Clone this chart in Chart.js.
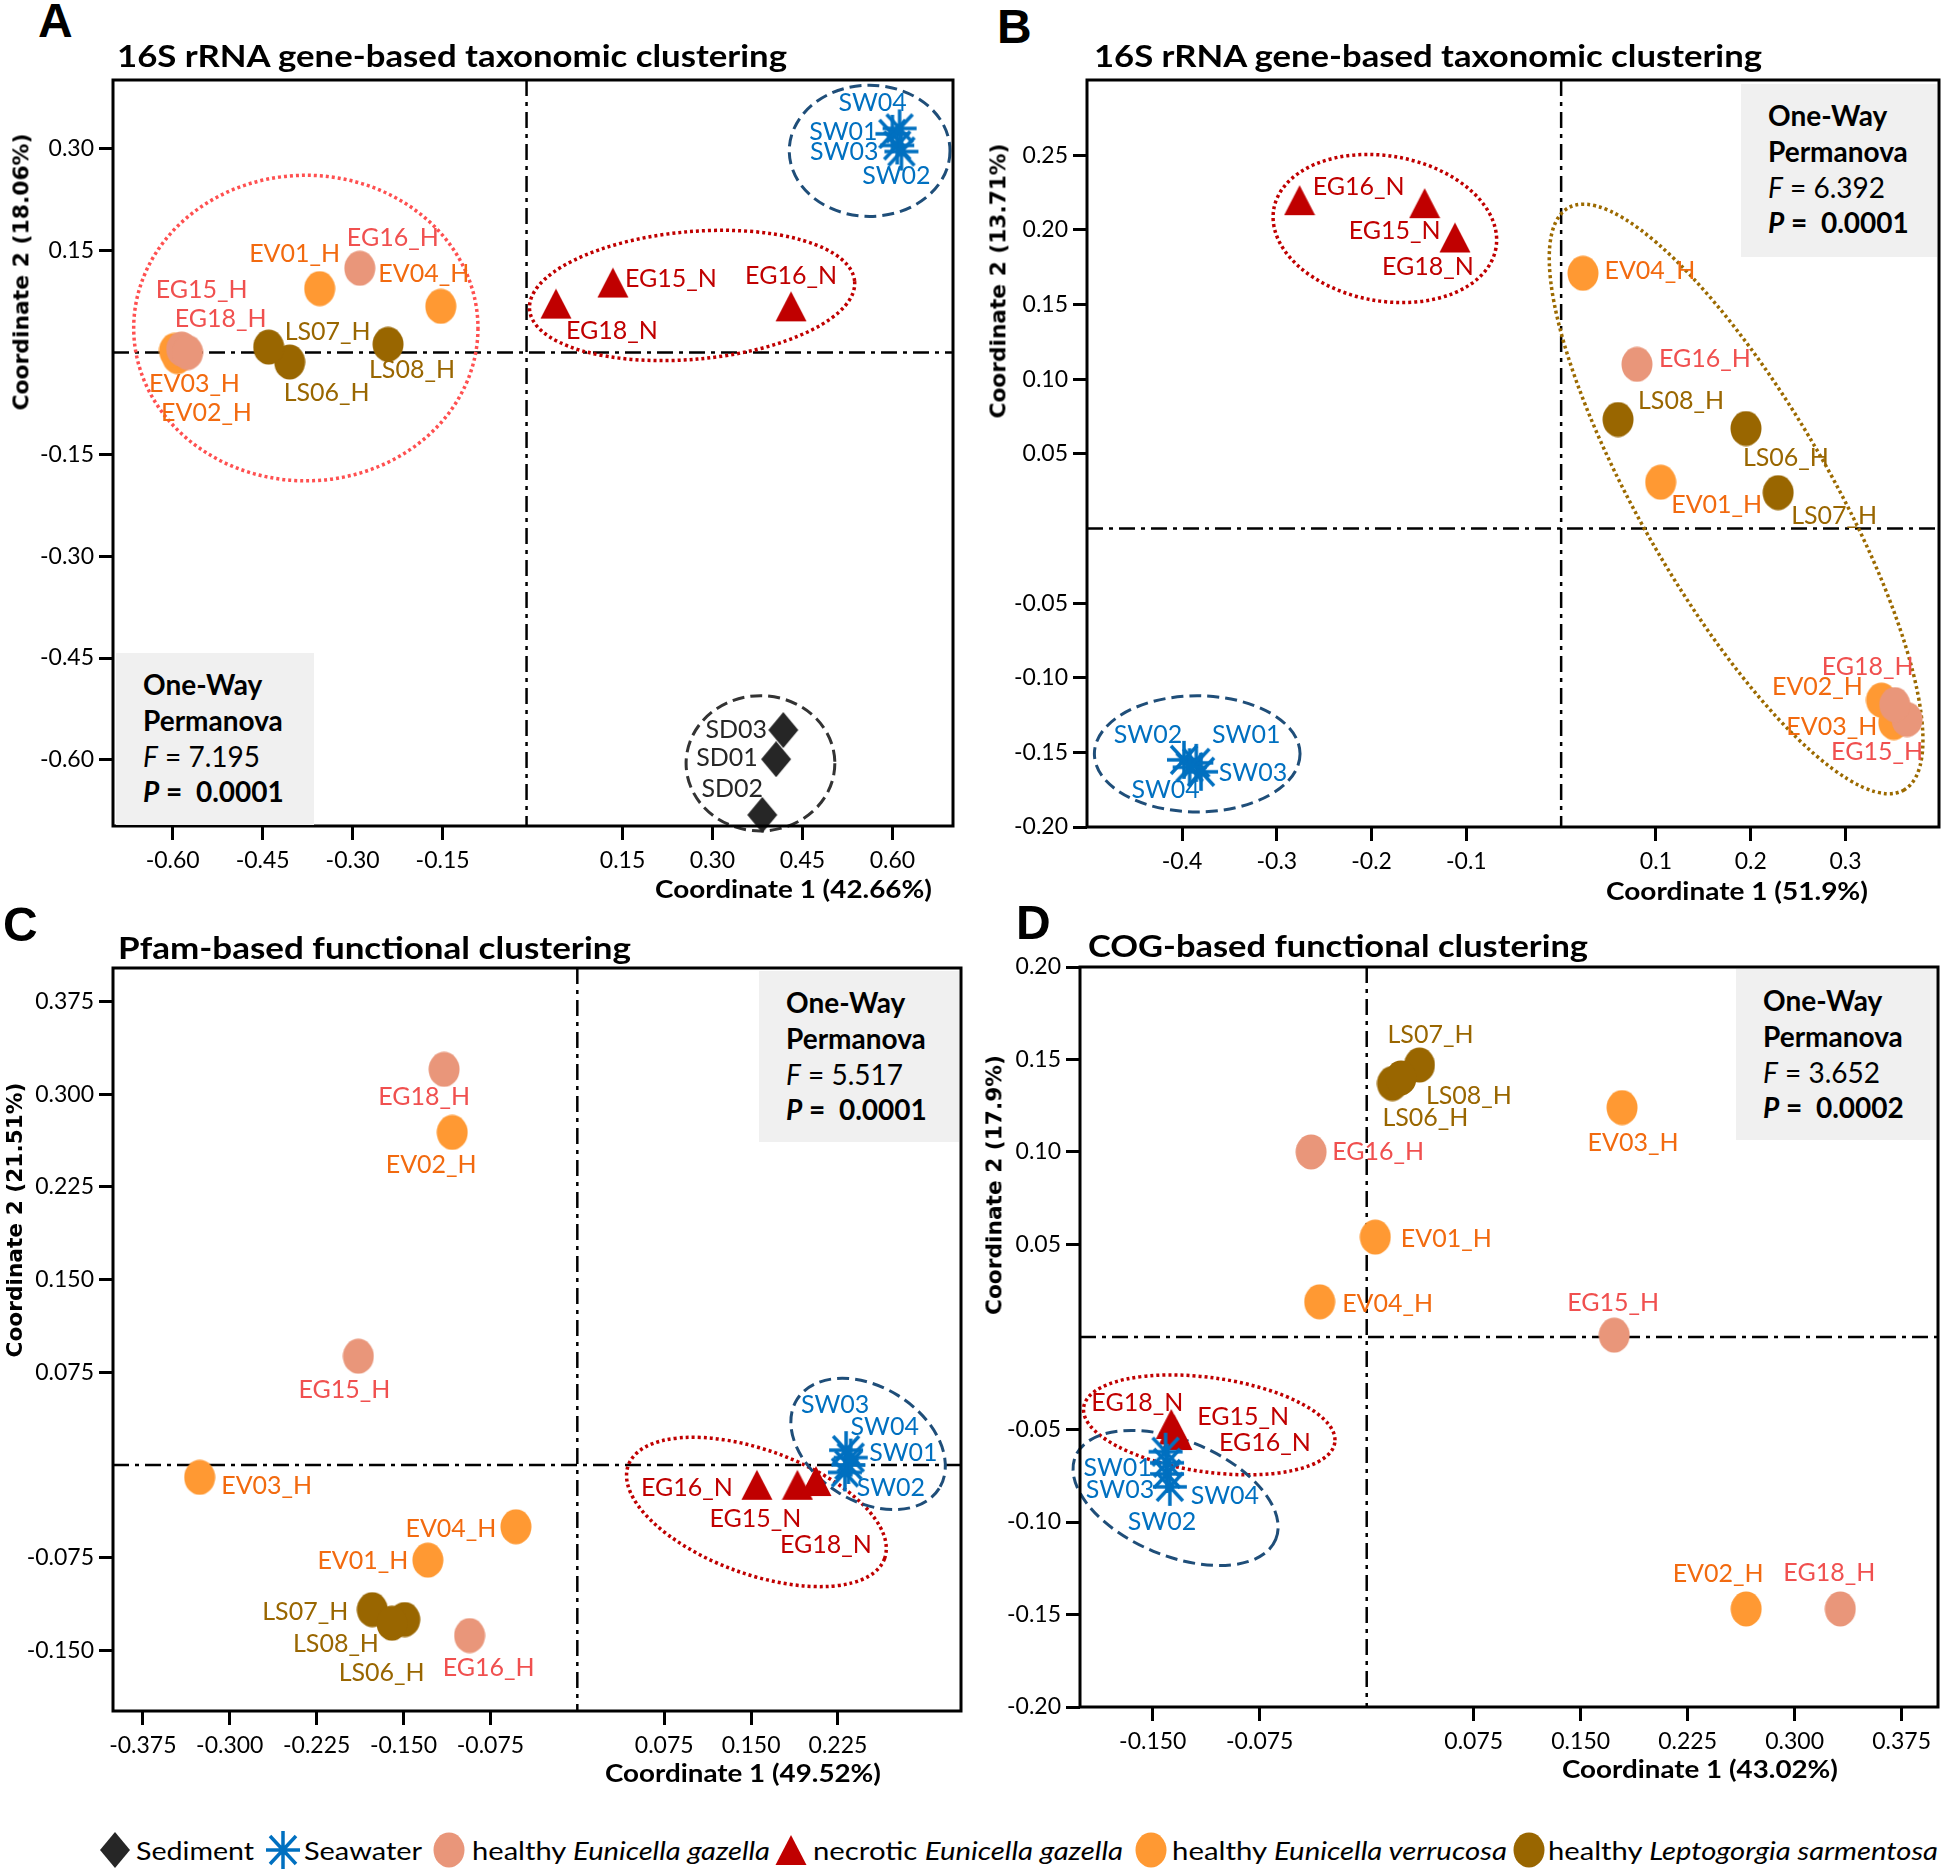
<!DOCTYPE html>
<html>
<head>
<meta charset="utf-8">
<script src="https://cdn.jsdelivr.net/npm/chart.js@4.4.1/dist/chart.umd.min.js"></script>
<style>
  html, body { margin: 0; padding: 0; background: #fff; overflow: hidden; }
  #page { position: relative; width: 1946px; height: 1872px; font-family: Lato, 'Noto Sans', sans-serif; color: #000; }
  #page canvas { position: absolute; }
  .t { position: absolute; white-space: nowrap; }
  .box { position: absolute; background: #f0f0f0; }
</style>
</head>
<body>
<div id="page"></div>
<script>
// PCoA ordinations of coral, seawater and sediment samples (four panels).

/* global Chart */

// ---- data ----------------------------------------------------------------
const groupNames = ['Sediment', 'Seawater', 'healthy Eunicella gazella', 'necrotic Eunicella gazella',
  'healthy Eunicella verrucosa', 'healthy Leptogorgia sarmentosa'];
const sedimentSamples = ['SD01', 'SD02', 'SD03'];
const samples = ['SW01', 'SW02', 'SW03', 'SW04', 'EG15_H', 'EG16_H', 'EG18_H', 'EG15_N', 'EG16_N', 'EG18_N',
  'EV01_H', 'EV02_H', 'EV03_H', 'EV04_H', 'LS06_H', 'LS07_H', 'LS08_H'];

// A: 16S rRNA taxonomic (sediment first, then the shared sample list)
const taxNamesA = sedimentSamples.concat(samples);
const taxAX = [0.406, 0.383, 0.418, 0.600, 0.615, 0.608, 0.612, -0.585, -0.288, -0.575, 0.134, 0.431, 0.039,
  -0.355, -0.592, -0.597, -0.153, -0.405, -0.440, -0.241];
const taxAY = [-0.599, -0.681, -0.556, 0.322, 0.296, 0.305, 0.330, 0.005, 0.124, 0.000, 0.103, 0.068, 0.072,
  0.094, -0.006, 0.003, 0.068, -0.014, 0.008, 0.012];
const taxAXTicks = [-0.60, -0.45, -0.30, -0.15, 0.15, 0.30, 0.45, 0.60];
const taxAYTicks = [-0.60, -0.45, -0.30, -0.15, 0.15, 0.30];

// B: 16S rRNA taxonomic, corals + seawater
const taxBX = [-0.385, -0.398, -0.380, -0.392, 0.365, 0.080, 0.352, -0.144, -0.276, -0.112,
  0.105, 0.338, 0.351, 0.023, 0.195, 0.229, 0.060];
const taxBY = [-0.157, -0.155, -0.163, -0.160, -0.128, 0.110, -0.118, 0.218, 0.220, 0.195,
  0.031, -0.115, -0.130, 0.171, 0.067, 0.024, 0.073];
const taxBXTicks = [-0.4, -0.3, -0.2, -0.1, 0.1, 0.2, 0.3];
const taxBYTicks = [-0.20, -0.15, -0.10, -0.05, 0.05, 0.10, 0.15, 0.20, 0.25];

// C: Pfam functional
const pfamX = [0.234, 0.231, 0.232, 0.236, -0.189, -0.093, -0.115, 0.190, 0.155, 0.206,
  -0.129, -0.108, -0.326, -0.053, -0.149, -0.177, -0.160];
const pfamY = [0.000, -0.006, 0.012, 0.006, 0.088, -0.138, 0.320, -0.016, -0.016, -0.013,
  -0.077, 0.269, -0.010, -0.050, -0.125, -0.117, -0.128];
const pfamXTicks = [-0.375, -0.300, -0.225, -0.150, -0.075, 0.075, 0.150, 0.225];
const pfamYTicks = [-0.150, -0.075, 0.075, 0.150, 0.225, 0.300, 0.375];

// D: COG functional
const cogX = [-0.141, -0.140, -0.140, -0.138, 0.1735, -0.039, 0.332, -0.135, -0.133, -0.137,
  0.006, 0.266, 0.179, -0.033, 0.018, 0.037, 0.024];
const cogY = [-0.062, -0.074, -0.068, -0.081, 0.001, 0.100, -0.147, -0.050, -0.053, -0.047,
  0.054, -0.147, 0.124, 0.019, 0.137, 0.147, 0.140];
const cogXTicks = [-0.150, -0.075, 0.075, 0.150, 0.225, 0.300, 0.375];
const cogYTicks = [-0.20, -0.15, -0.10, -0.05, 0.05, 0.10, 0.15, 0.20];

// One-way PERMANOVA results per panel
const permF = ['7.195', '6.392', '5.517', '3.652'];
const permP = ['0.0001', '0.0001', '0.0001', '0.0002'];

// ---- styling / layout ----------------------------------------------------
const fillColors = ['#262626', '#0070c0', '#e9967a', '#c00000', '#ff9933', '#996600'];
const labelColors = ['#262626', '#0070c0', '#f0504f', '#c00000', '#f26a0f', '#996600'];

// label offsets (px) from each point
const labelsA = { SD01: [-49, -1], SD02: [-30, -26], SD03: [-47, 0], SW01: [-49, -2], SW02: [-5, 24], SW03: [-53, 7],
  SW04: [-27, -25], EG15_H: [20, -59], EG16_H: [33, -30], EG18_H: [33, -34], EG15_N: [58, -4], EG16_N: [0, -30],
  EG18_N: [56, 27], EV01_H: [-25, -35], EV02_H: [29, 56], EV03_H: [20, 33], EV04_H: [-17, -32], LS06_H: [37, 31],
  LS07_H: [59, -15], LS08_H: [24, 26] };
const labelsB = { SW01: [50, -28], SW02: [-36, -25], SW03: [52, 1], SW04: [-24, 23], EG15_H: [-30, 32], EG16_H: [68, -5],
  EG18_H: [-27, -38], EG15_N: [-30, 28], EG16_N: [59, -13], EG18_N: [-27, 29], EV01_H: [56, 23], EV02_H: [-64, -13],
  EV03_H: [-62, 4], EV04_H: [67, -2], LS06_H: [40, 29], LS07_H: [56, 23], LS08_H: [63, -19] };
const labelsC = { SW01: [55, -12], SW02: [46, 16], SW03: [-11, -45], SW04: [34, -31], EG15_H: [-14, 34], EG16_H: [19, 32],
  EG18_H: [-20, 28], EG15_N: [-42, 34], EG16_N: [-70, 3], EG18_N: [10, 64], EV01_H: [-65, 1], EV02_H: [-21, 33],
  EV03_H: [67, 9], EV04_H: [-65, 2], LS06_H: [-23, 53], LS07_H: [-67, 2], LS08_H: [-56, 21] };
const labelsD = { SW01: [-48, 16], SW02: [-5, 48], SW03: [-47, 27], SW04: [55, 9], EG15_H: [-1, -32], EG16_H: [67, 0],
  EG18_H: [-11, -36], EG15_N: [69, -13], EG16_N: [88, 8], EG18_N: [-34, -21], EV01_H: [71, 2], EV02_H: [-28, -35],
  EV03_H: [11, 35], EV04_H: [68, 2], LS06_H: [33, 34], LS07_H: [11, -30], LS08_H: [68, 18] };

// cluster outlines: centre in data units, semi-axes in x / y units, rotation in degrees
const DOT = [3, 3];
const DASH = [12, 6];
const ellA = [
  { cx: -0.378, cy: 0.036, a: 0.287, b: 0.225, rot: 0, color: '#ff5050', dash: DOT },
  { cx: 0.266, cy: 0.084, a: 0.272, b: 0.094, rot: -5, color: '#c00000', dash: DOT },
  { cx: 0.562, cy: 0.297, a: 0.134, b: 0.0966, rot: 0, color: '#1f4e79', dash: DASH },
  { cx: 0.380, cy: -0.605, a: 0.124, b: 0.0996, rot: 0, color: '#333333', dash: DASH },
];
const ellB = [
  { cx: -0.186, cy: 0.201, a: 0.119, b: 0.0486, rot: 10, color: '#c00000', dash: DOT },
  { cx: 0.1846, cy: 0.0198, a: 0.3545, b: 0.0633, rot: 60, color: '#9c6a00', dash: DOT },
  { cx: -0.384, cy: -0.151, a: 0.1085, b: 0.0389, rot: 0, color: '#1f4e79', dash: DASH },
];
const ellC = [
  { cx: 0.1546, cy: -0.038, a: 0.1177, b: 0.0502, rot: 20, color: '#c00000', dash: DOT },
  { cx: 0.251, cy: 0.017, a: 0.0724, b: 0.0461, rot: 32, color: '#1f4e79', dash: DASH },
];
const ellD = [
  { cx: -0.1104, cy: -0.0475, a: 0.0889, b: 0.0255, rot: 8, color: '#c00000', dash: DOT },
  { cx: -0.134, cy: -0.087, a: 0.076, b: 0.0312, rot: 22.5, color: '#1f4e79', dash: DASH },
];

const panels = [
  { names: taxNamesA, x: taxAX, y: taxAY, xt: taxAXTicks, yt: taxAYTicks, xd: 2, yd: 2,
    frame: [113, 80, 953, 826], xr: [-0.6995, 0.701], yr: [-0.6973, 0.4013], refX: -0.010, ell: ellA, lab: labelsA },
  { names: samples, x: taxBX, y: taxBY, xt: taxBXTicks, yt: taxBYTicks, xd: 1, yd: 2,
    frame: [1087, 80, 1939, 827], xr: [-0.5003, 0.3987], yr: [-0.20, 0.3005], refX: 0, ell: ellB, lab: labelsB },
  { names: samples, x: pfamX, y: pfamY, xt: pfamXTicks, yt: pfamYTicks, xd: 3, yd: 3,
    frame: [113, 968, 961, 1711], xr: [-0.4008, 0.3312], yr: [-0.199, 0.402], refX: 0, ell: ellC, lab: labelsC },
  { names: samples, x: cogX, y: cogY, xt: cogXTicks, yt: cogYTicks, xd: 3, yd: 2,
    frame: [1080, 967, 1938, 1707], xr: [-0.201, 0.4005], yr: [-0.20, 0.20], refX: 0, ell: ellD, lab: labelsD },
];

// canvas margins around each plot frame (px)
const PAD = { left: 4, top: 16, right: 4, bottom: 8 };
const Y_AXIS_W = 100;
const X_AXIS_H = 56;

const page = document.getElementById('page');

function groupOf(n) {
  if (n.startsWith('SD')) return 0;
  if (n.startsWith('SW')) return 1;
  if (n.startsWith('EG')) return n.endsWith('_N') ? 3 : 2;
  if (n.startsWith('EV')) return 4;
  return 5;
}

// small canvases used as point styles
function makeMarker(gi) {
  const c = document.createElement('canvas');
  const g = c.getContext('2d');
  const col = fillColors[gi];
  if (gi === 0) {
    c.width = 32; c.height = 36;
    g.fillStyle = col;
    g.beginPath(); g.moveTo(16, 0); g.lineTo(31, 18); g.lineTo(16, 36); g.lineTo(1, 18); g.closePath(); g.fill();
  } else if (gi === 1) {
    c.width = 36; c.height = 40;
    g.strokeStyle = col; g.lineWidth = 3.5;
    g.beginPath();
    g.moveTo(18, 1); g.lineTo(18, 39);
    g.moveTo(1, 20); g.lineTo(35, 20);
    g.moveTo(5, 6); g.lineTo(31, 34);
    g.moveTo(31, 6); g.lineTo(5, 34);
    g.stroke();
  } else if (gi === 3) {
    c.width = 32; c.height = 32;
    g.fillStyle = col;
    g.beginPath(); g.moveTo(16, 1); g.lineTo(31.5, 31); g.lineTo(0.5, 31); g.closePath(); g.fill();
  } else {
    c.width = 32; c.height = 36;
    g.fillStyle = col;
    g.beginPath(); g.ellipse(16, 18, 15.5, 17.5, 0, 0, Math.PI * 2); g.fill();
  }
  return c;
}

function addText(html, x, y, o) {
  const el = document.createElement('div');
  el.className = 't';
  el.innerHTML = html;
  el.style.font = o.font;
  el.style.lineHeight = '1.2';
  el.style.left = x + 'px';
  el.style.top = y + 'px';
  el.style.color = o.color || '#000';
  page.appendChild(el);
  const s = o.width ? o.width / el.getBoundingClientRect().width : 1;
  if (o.rotate) {
    el.style.transform = `translate(-50%,-50%) rotate(-90deg) scaleX(${s})`;
  } else {
    el.style.transformOrigin = '0 50%';
    el.style.transform = `translateY(-50%) scaleX(${s})`;
  }
  return el;
}

const decorPlugin = {
  id: 'decor',
  beforeDatasetsDraw(chart) {
    const p = chart.options.plugins.decor.panel;
    const { ctx, chartArea: ca } = chart;
    const xs = chart.scales.x, ys = chart.scales.y;
    ctx.save();
    // dash-dot reference lines
    ctx.strokeStyle = '#000';
    ctx.lineWidth = 2.5;
    ctx.setLineDash([16, 6, 4, 6]);
    const x0 = xs.getPixelForValue(p.refX), y0 = ys.getPixelForValue(0);
    ctx.beginPath();
    ctx.moveTo(x0, ca.top); ctx.lineTo(x0, ca.bottom);
    ctx.moveTo(ca.left, y0); ctx.lineTo(ca.right, y0);
    ctx.stroke();
    // cluster ellipses
    const kx = xs.getPixelForValue(1) - xs.getPixelForValue(0);
    const ky = ys.getPixelForValue(0) - ys.getPixelForValue(1);
    p.ell.forEach(e => {
      ctx.strokeStyle = e.color;
      ctx.lineWidth = e.dash === DOT ? 3.5 : 3;
      ctx.setLineDash(e.dash);
      ctx.beginPath();
      ctx.ellipse(xs.getPixelForValue(e.cx), ys.getPixelForValue(e.cy), e.a * kx, e.b * ky,
        e.rot * Math.PI / 180, 0, Math.PI * 2);
      ctx.stroke();
    });
    ctx.restore();
  },
  afterDatasetsDraw(chart) {
    const p = chart.options.plugins.decor.panel;
    const { ctx, chartArea: ca } = chart;
    ctx.save();
    ctx.font = '25px Lato';
    ctx.textAlign = 'center';
    ctx.textBaseline = 'middle';
    chart.data.datasets.forEach((ds, di) => {
      const meta = chart.getDatasetMeta(di);
      ctx.fillStyle = labelColors[ds.group];
      meta.data.forEach((pt, i) => {
        const name = ds.data[i].name;
        const off = p.lab[name] || [0, -30];
        ctx.fillText(name, pt.x + off[0], pt.y + off[1]);
      });
    });
    // plot frame
    ctx.strokeStyle = '#000';
    ctx.lineWidth = 3;
    ctx.strokeRect(ca.left, ca.top, ca.right - ca.left, ca.bottom - ca.top);
    ctx.restore();
  },
};

function axis(ticks, dec, range, isX) {
  return {
    type: 'linear',
    position: isX ? 'bottom' : 'left',
    min: range[0],
    max: range[1],
    afterBuildTicks: s => { s.ticks = ticks.map(v => ({ value: v })); },
    afterFit: s => {
      if (isX) { s.height = X_AXIS_H; s.paddingLeft = 0; s.paddingRight = 0; }
      else { s.width = Y_AXIS_W; s.paddingTop = 0; s.paddingBottom = 0; }
    },
    ticks: {
      callback: v => Number(v).toFixed(dec),
      font: { family: 'Lato', size: 23 },
      color: '#000',
      padding: isX ? 7 : 5,
      maxRotation: 0,
      autoSkip: false,
    },
    grid: { display: true, drawOnChartArea: false, drawTicks: true, tickLength: 14, lineWidth: 3, color: '#000' },
    border: { display: false },
  };
}

function buildPanel(p) {
  const [fl, ft, fr, fb] = p.frame;
  const c = document.createElement('canvas');
  const w = fr - fl + PAD.left + Y_AXIS_W + PAD.right;
  const h = fb - ft + PAD.top + X_AXIS_H + PAD.bottom;
  c.width = w; c.height = h;
  c.style.left = (fl - PAD.left - Y_AXIS_W) + 'px';
  c.style.top = (ft - PAD.top) + 'px';
  c.style.width = w + 'px';
  c.style.height = h + 'px';
  page.appendChild(c);

  const markers = groupNames.map((g, gi) => makeMarker(gi));
  const datasets = groupNames.map((g, gi) => ({
    label: g,
    group: gi,
    data: p.names.map((n, i) => ({ x: p.x[i], y: p.y[i], name: n })).filter(d => groupOf(d.name) === gi),
    pointStyle: markers[gi],
    pointRadius: 10,
    pointHoverRadius: 10,
    showLine: false,
    clip: false,
  })).filter(ds => ds.data.length);

  new Chart(c, {
    type: 'scatter',
    data: { datasets },
    options: {
      responsive: false,
      devicePixelRatio: 1,
      animation: false,
      events: [],
      layout: { autoPadding: false, padding: PAD },
      scales: { x: axis(p.xt, p.xd, p.xr, true), y: axis(p.yt, p.yd, p.yr, false) },
      plugins: { legend: { display: false }, tooltip: { enabled: false }, decor: { panel: p } },
    },
    plugins: [decorPlugin],
  });
}

function statBox(i, left, top, width, height) {
  const b = document.createElement('div');
  b.className = 'box';
  Object.assign(b.style, { left: left + 'px', top: top + 'px', width: width + 'px', height: height + 'px' });
  page.appendChild(b);
  const x = left + 27;
  addText('One-Way', x, top + 32, { font: 'bold 28px Lato' });
  addText('Permanova', x, top + 68, { font: 'bold 28px Lato' });
  addText('<i>F</i> = ' + permF[i], x, top + 104, { font: '28px Lato' });
  addText('<i>P</i> =&nbsp; ' + permP[i], x, top + 139, { font: 'bold 28px Lato' });
}

function build() {
  panels.forEach(buildPanel);

  // panel letters
  const letterFont = 'bold 48px "Liberation Sans", Arial, sans-serif';
  addText('A', 38, 21, { font: letterFont });
  addText('B', 997, 27, { font: letterFont });
  addText('C', 3, 925, { font: letterFont });
  addText('D', 1016, 923, { font: letterFont });

  // panel titles
  const tFont = 'bold 30px Lato';
  addText('16S rRNA gene-based taxonomic clustering', 117, 55, { font: tFont, width: 670 });
  addText('16S rRNA gene-based taxonomic clustering', 1094, 55, { font: tFont, width: 668 });
  addText('Pfam-based functional clustering', 118, 947, { font: tFont, width: 513 });
  addText('COG-based functional clustering', 1088, 945, { font: tFont, width: 500 });

  // axis titles
  const xFont = 'bold 25px Lato';
  addText('Coordinate 1 (42.66%)', 655, 888, { font: xFont, width: 277 });
  addText('Coordinate 1 (51.9%)', 1606, 890, { font: xFont, width: 262 });
  addText('Coordinate 1 (49.52%)', 605, 1772, { font: xFont, width: 276 });
  addText('Coordinate 1 (43.02%)', 1562, 1768, { font: xFont, width: 276 });
  const yFont = 'bold 21px "DejaVu Sans", sans-serif';
  addText('Coordinate 2 (18.06%)', 22, 272, { font: yFont, width: 277, rotate: true });
  addText('Coordinate 2 (13.71%)', 999, 281, { font: yFont, width: 275, rotate: true });
  addText('Coordinate 2 (21.51%)', 16, 1220, { font: yFont, width: 275, rotate: true });
  addText('Coordinate 2 (17.9%)', 995, 1185, { font: yFont, width: 260, rotate: true });

  // PERMANOVA boxes
  statBox(0, 116, 653, 198, 172);
  statBox(1, 1741, 84, 196, 173);
  statBox(2, 759, 971, 200, 171);
  statBox(3, 1736, 969, 200, 171);

  // shared legend
  const legendMarkX = [115, 283, 449, 791, 1151, 1529];
  const legendTextX = [136, 304, 472, 813, 1172, 1548];
  const legendTextW = [118, 118, 298, 310, 335, 390];
  const legendHtml = ['Sediment', 'Seawater', 'healthy <i>Eunicella gazella</i>', 'necrotic <i>Eunicella gazella</i>',
    'healthy <i>Eunicella verrucosa</i>', 'healthy <i>Leptogorgia sarmentosa</i>'];
  groupNames.forEach((g, gi) => {
    const m = makeMarker(gi);
    m.style.left = (legendMarkX[gi] - m.width / 2) + 'px';
    m.style.top = (1850 - m.height / 2) + 'px';
    page.appendChild(m);
    addText(legendHtml[gi], legendTextX[gi], 1850, { font: '25px Lato', width: legendTextW[gi] });
  });
}

Promise.all([
  document.fonts.load('24px Lato'),
  document.fonts.load('bold 30px Lato'),
  document.fonts.load('italic 25px Lato'),
  document.fonts.load('bold 21px "DejaVu Sans"'),
]).catch(() => {}).then(build);
</script>
</body>
</html>
